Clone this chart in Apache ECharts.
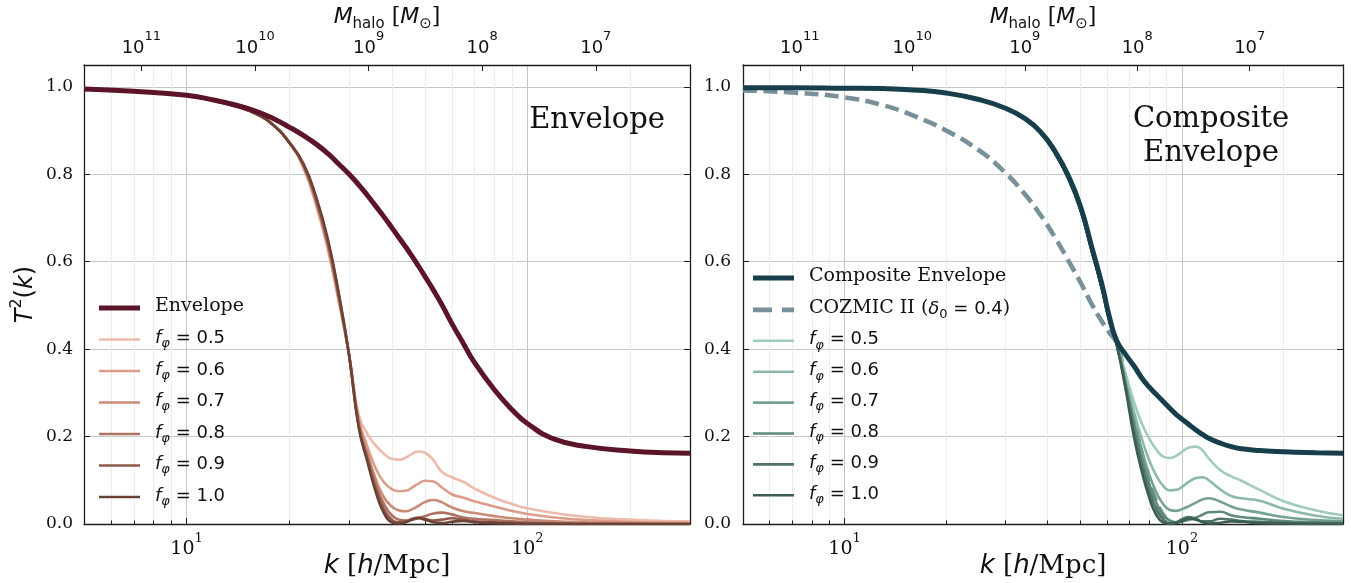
<!DOCTYPE html>
<html><head><meta charset="utf-8">
<script src="https://cdn.jsdelivr.net/npm/echarts@6/dist/echarts.min.js"></script>
<style>html,body{margin:0;padding:0;background:#fff}#c{width:1351px;height:583px}</style>
</head><body><div id="c"></div>
<script>
// ---------- data ----------
const kL = [5, 7, 10, 12, 14, 16, 18, 20, 22, 24, 26, 28, 30, 32, 34, 36, 38, 40, 42, 44, 46, 48, 50, 53, 56, 60, 65, 70, 80, 90, 100, 120, 150, 200, 250, 300];
const envelopeL = [0.995, 0.990, 0.981, 0.970, 0.958, 0.944, 0.927, 0.908, 0.889, 0.869, 0.847, 0.823, 0.800, 0.776, 0.751, 0.726, 0.702, 0.678, 0.655, 0.633, 0.611, 0.589, 0.567, 0.535, 0.503, 0.459, 0.412, 0.369, 0.307, 0.262, 0.230, 0.194, 0.177, 0.167, 0.163, 0.162];
const fL05 = [0.995, 0.990, 0.980, 0.969, 0.955, 0.938, 0.912, 0.873, 0.815, 0.728, 0.625, 0.505, 0.385, 0.250, 0.205, 0.178, 0.160, 0.149, 0.147, 0.152, 0.161, 0.166, 0.163, 0.146, 0.120, 0.107, 0.096, 0.081, 0.060, 0.046, 0.036, 0.025, 0.016, 0.010, 0.007, 0.006];
const fL06 = [0.995, 0.990, 0.980, 0.969, 0.955, 0.938, 0.912, 0.873, 0.817, 0.732, 0.630, 0.509, 0.385, 0.240, 0.175, 0.125, 0.095, 0.080, 0.075, 0.076, 0.084, 0.093, 0.099, 0.097, 0.084, 0.068, 0.060, 0.052, 0.040, 0.030, 0.023, 0.015, 0.009, 0.005, 0.003, 0.003];
const fL07 = [0.995, 0.990, 0.980, 0.969, 0.955, 0.938, 0.912, 0.873, 0.819, 0.736, 0.635, 0.513, 0.385, 0.232, 0.160, 0.100, 0.060, 0.040, 0.031, 0.029, 0.034, 0.042, 0.050, 0.055, 0.050, 0.038, 0.029, 0.025, 0.018, 0.013, 0.010, 0.006, 0.004, 0.002, 0.001, 0.001];
const fL08 = [0.995, 0.990, 0.980, 0.969, 0.955, 0.938, 0.912, 0.873, 0.821, 0.740, 0.640, 0.517, 0.385, 0.228, 0.152, 0.088, 0.045, 0.020, 0.010, 0.008, 0.010, 0.014, 0.018, 0.024, 0.026, 0.022, 0.015, 0.012, 0.009, 0.006, 0.004, 0.002, 0.001, 0.001, 0.000, 0.000];
const fL09 = [0.995, 0.990, 0.980, 0.969, 0.955, 0.938, 0.912, 0.873, 0.823, 0.744, 0.645, 0.521, 0.385, 0.224, 0.145, 0.078, 0.033, 0.010, 0.004, 0.006, 0.012, 0.015, 0.012, 0.008, 0.010, 0.013, 0.010, 0.006, 0.004, 0.003, 0.002, 0.001, 0.000, 0.000, 0.000, 0.000];
const fL10 = [0.995, 0.990, 0.980, 0.969, 0.955, 0.938, 0.912, 0.873, 0.825, 0.748, 0.650, 0.525, 0.385, 0.220, 0.140, 0.070, 0.024, 0.004, 0.001, 0.004, 0.010, 0.013, 0.010, 0.004, 0.002, 0.005, 0.007, 0.004, 0.002, 0.001, 0.000, 0.000, 0.000, 0.000, 0.000, 0.000];

const kR = [5, 7, 10, 13, 16, 20, 25, 30, 34, 38, 42, 46, 50, 54, 58, 61, 64, 68, 72, 76, 80, 84, 88, 92, 96, 100, 105, 110, 115, 120, 130, 140, 150, 170, 200, 250, 300];
const compositeR = [0.998, 0.998, 0.997, 0.996, 0.993, 0.986, 0.971, 0.951, 0.929, 0.898, 0.853, 0.797, 0.727, 0.634, 0.546, 0.472, 0.420, 0.388, 0.362, 0.334, 0.313, 0.296, 0.280, 0.265, 0.251, 0.240, 0.227, 0.215, 0.205, 0.196, 0.185, 0.177, 0.172, 0.168, 0.165, 0.163, 0.162];
const cozmicR = [0.992, 0.987, 0.976, 0.958, 0.934, 0.900, 0.855, 0.803, 0.757, 0.708, 0.656, 0.603, 0.553, 0.503, 0.462, 0.437, 0.414, 0.330, 0.240, 0.160, 0.095, 0.050, 0.020, 0.004, null, null, null, null, null, null, null, null, null, null, null, null, null];
const fR05 = [0.998, 0.998, 0.997, 0.996, 0.993, 0.986, 0.971, 0.951, 0.928, 0.896, 0.849, 0.791, 0.719, 0.625, 0.536, 0.463, 0.415, 0.345, 0.280, 0.230, 0.195, 0.170, 0.154, 0.151, 0.156, 0.165, 0.175, 0.177, 0.168, 0.150, 0.123, 0.109, 0.099, 0.078, 0.052, 0.031, 0.020];
const fR06 = [0.998, 0.998, 0.997, 0.996, 0.993, 0.986, 0.971, 0.951, 0.928, 0.896, 0.849, 0.791, 0.719, 0.625, 0.536, 0.463, 0.414, 0.335, 0.258, 0.195, 0.145, 0.110, 0.087, 0.077, 0.078, 0.085, 0.097, 0.105, 0.107, 0.100, 0.079, 0.064, 0.059, 0.053, 0.035, 0.019, 0.012];
const fR07 = [0.998, 0.998, 0.997, 0.996, 0.993, 0.986, 0.971, 0.951, 0.928, 0.896, 0.849, 0.791, 0.719, 0.625, 0.536, 0.463, 0.413, 0.325, 0.240, 0.170, 0.113, 0.072, 0.045, 0.032, 0.030, 0.034, 0.041, 0.049, 0.056, 0.059, 0.051, 0.040, 0.033, 0.026, 0.016, 0.009, 0.006];
const fR08 = [0.998, 0.998, 0.997, 0.996, 0.993, 0.986, 0.971, 0.951, 0.928, 0.896, 0.849, 0.791, 0.719, 0.625, 0.536, 0.463, 0.412, 0.320, 0.228, 0.152, 0.092, 0.048, 0.020, 0.008, 0.004, 0.006, 0.010, 0.015, 0.021, 0.027, 0.028, 0.020, 0.016, 0.012, 0.007, 0.004, 0.003];
const fR09 = [0.998, 0.998, 0.997, 0.996, 0.993, 0.986, 0.971, 0.951, 0.928, 0.896, 0.849, 0.791, 0.719, 0.625, 0.536, 0.463, 0.411, 0.315, 0.215, 0.135, 0.075, 0.033, 0.010, 0.002, 0.004, 0.011, 0.016, 0.012, 0.006, 0.006, 0.012, 0.010, 0.007, 0.005, 0.003, 0.002, 0.001];
const fR10 = [0.998, 0.998, 0.997, 0.996, 0.993, 0.986, 0.971, 0.951, 0.928, 0.896, 0.849, 0.791, 0.719, 0.625, 0.536, 0.463, 0.410, 0.310, 0.200, 0.120, 0.060, 0.020, 0.003, 0.000, 0.002, 0.007, 0.012, 0.010, 0.004, 0.001, 0.003, 0.006, 0.005, 0.002, 0.001, 0.000, 0.000];

const fLabels = ['0.5', '0.6', '0.7', '0.8', '0.9', '1.0'];
const kMajorTicks = [10, 100];
const kMinorTicks = [6, 7, 8, 9, 20, 30, 40, 50, 60, 70, 80, 90, 200];
const massTicks = [1e7, 1e8, 1e9, 1e10, 1e11];
const kRange = [5, 300];
const massConst = 4e13;   // M_halo = massConst / k^3 (top axis scale)

// ---------- styling ----------
const SERIF = 'DejaVu Serif', SANS = 'DejaVu Sans';
const leftColors = ['#ecbbac', '#dc9d89', '#c98a76', '#b07262', '#8f5a4c', '#6b4336'];
const rightColors = ['#9fccbb', '#8bbaa9', '#74a192', '#5e897b', '#4d7467', '#3e5d51'];
const envColor = '#5c1428', compColor = '#173f4b', cozColor = '#78909a';
const frame = '#1e1e1e', majorGrid = '#c8c8c8', minorGrid = '#ececec';
const W = {env: 5, f: 2.6, coz: 4.6};

const pairs = (ks, vs) => ks.map((k, i) => [k, vs[i]]);
const supRich = (fam, size) => ({
  b: {fontFamily: fam, fontSize: size, color: '#111', lineHeight: size + 4, verticalAlign: 'bottom'},
  s: {fontFamily: fam, fontSize: Math.round(size * 0.7), color: '#111', lineHeight: Math.round(size * 0.7), padding: [0, 0, Math.round(size * 0.75), 0], verticalAlign: 'bottom'}
});
const powLabel = v => '{b|10}{s|' + Math.round(Math.log10(v)) + '}';

const grids = [
  {left: 84, top: 65, width: 606, height: 459, containLabel: false, outerBoundsMode: 'none'},
  {left: 743, top: 65, width: 600, height: 459, containLabel: false, outerBoundsMode: 'none'}
];
const xAxes = [], yAxes = [];
grids.forEach((g, gi) => {
  xAxes.push({type: 'log', logBase: 10, gridIndex: gi, min: kRange[0], max: kRange[1], position: 'bottom',
    axisLine: {show: false}, axisLabel: {show: false},
    axisTick: {show: true, inside: true, length: 3.5, customValues: kMinorTicks, lineStyle: {color: frame, width: 1}},
    splitLine: {show: true, lineStyle: {color: minorGrid, width: 1}}});
  xAxes.push({type: 'log', logBase: 10, gridIndex: gi, min: kRange[0], max: kRange[1], position: 'bottom',
    axisLine: {show: true, onZero: false, lineStyle: {color: frame, width: 1.3}},
    axisTick: {show: true, inside: true, length: 6, customValues: kMajorTicks, lineStyle: {color: frame, width: 1}},
    axisLabel: {customValues: kMajorTicks, formatter: powLabel, margin: 12, rich: supRich(SERIF, 19)},
    splitLine: {show: true, lineStyle: {color: majorGrid, width: 1}},
    name: '{i|k}{n| [}{i|h}{n|/Mpc]}', nameLocation: 'middle', nameGap: 29, nameMoveOverlap: false,
    nameTextStyle: {rich: {
      i: {fontFamily: SANS, fontStyle: 'italic', fontSize: 26, color: '#111'},
      n: {fontFamily: SERIF, fontSize: 26, color: '#111'}}}});
  xAxes.push({type: 'log', logBase: 10, gridIndex: gi, position: 'top', inverse: true,
    min: massConst / Math.pow(kRange[1], 3), max: massConst / Math.pow(kRange[0], 3),
    axisLine: {show: true, onZero: false, lineStyle: {color: frame, width: 1.3}},
    axisTick: {show: true, inside: true, length: 6, customValues: massTicks, lineStyle: {color: frame, width: 1}},
    axisLabel: {customValues: massTicks, formatter: powLabel, margin: 8, rich: supRich(SANS, 18)},
    splitLine: {show: false},
    name: '{i|M}{sub|halo}{n| [}{i|M}{sub|⊙}{n|]}', nameLocation: 'middle', nameGap: 33, nameMoveOverlap: false,
    nameTextStyle: {rich: {
      i: {fontFamily: SANS, fontStyle: 'italic', fontSize: 22, color: '#111', lineHeight: 25, padding: [0, 0, 4, 0], verticalAlign: 'bottom'},
      sub: {fontFamily: SANS, fontSize: 15, color: '#111', lineHeight: 15, verticalAlign: 'bottom'},
      n: {fontFamily: SERIF, fontSize: 22, color: '#111', lineHeight: 25, padding: [0, 0, 4, 0], verticalAlign: 'bottom'}}}});
  yAxes.push({type: 'value', gridIndex: gi, min: 0, max: 1.05, interval: 0.2, position: 'left',
    axisLine: {show: true, onZero: false, lineStyle: {color: frame, width: 1.3}},
    axisTick: {show: true, inside: true, length: 6, lineStyle: {color: frame, width: 1}},
    axisLabel: {margin: gi === 0 ? 11 : 12, fontFamily: SERIF, fontSize: 17, color: '#111',
      formatter: v => (Math.abs(v * 5 - Math.round(v * 5)) < 1e-6 ? v.toFixed(1) : '')},
    splitLine: {show: true, lineStyle: {color: majorGrid, width: 1}},
    name: gi === 0 ? '{i|T}{s|2}{n|(}{i|k}{n|)}' : '', nameLocation: 'middle', nameGap: 46,
    nameTextStyle: {rich: {
      i: {fontFamily: SANS, fontStyle: 'italic', fontSize: 24, color: '#111', lineHeight: 28, verticalAlign: 'bottom'},
      s: {fontFamily: SANS, fontSize: 16, color: '#111', lineHeight: 16, padding: [0, 0, 13, 0], verticalAlign: 'bottom'},
      n: {fontFamily: SANS, fontSize: 24, color: '#111', lineHeight: 28, verticalAlign: 'bottom'}}}});
  yAxes.push({type: 'value', gridIndex: gi, min: 0, max: 1.05, interval: 0.2, position: 'right',
    axisLine: {show: true, onZero: false, lineStyle: {color: frame, width: 1.3}},
    axisTick: {show: true, inside: true, length: 6, lineStyle: {color: frame, width: 1}},
    axisLabel: {show: false}, splitLine: {show: false}});
});

const series = [];
const lineSeries = (name, gi, ks, vs, color, width, z, dashed) => ({
  name, type: 'line', xAxisIndex: gi * 3 + 1, yAxisIndex: gi * 2, data: pairs(ks, vs),
  showSymbol: false, symbol: 'none', smooth: 0.5, z, clip: true, silent: true, animation: false,
  lineStyle: {color, width, type: dashed ? [14, 6.5] : 'solid', cap: 'butt'}, itemStyle: {color}
});
[fL05, fL06, fL07, fL08, fL09, fL10].forEach((arr, i) => series.push(lineSeries('L' + fLabels[i], 0, kL, arr, leftColors[i], W.f, 3)));
series.push(lineSeries('Envelope', 0, kL, envelopeL, envColor, W.env, 5));
series.push(lineSeries('COZMIC', 1, kR, cozmicR, cozColor, W.coz, 2, true));
[fR05, fR06, fR07, fR08, fR09, fR10].forEach((arr, i) => series.push(lineSeries('R' + fLabels[i], 1, kR, arr, rightColors[i], W.f, 3)));
series.push(lineSeries('Composite Envelope', 1, kR, compositeR, compColor, W.env, 5));

// legend handles drawn as filled bars / dashes
const iconThick = 'path://M0 0H41V5H0Z', iconThin = 'path://M0 0H41V2.6H0Z', iconDash = 'path://M0 0H19V4.6H0Z M29 0H41V4.6H29Z';
const legendLabel = {Envelope: '{e|Envelope}', 'Composite Envelope': '{e|Composite Envelope}',
  COZMIC: '{e|COZMIC II (}{d|δ}{z|0}{q| = 0.4}{e|)}'};
fLabels.forEach(f => { legendLabel['L' + f] = legendLabel['R' + f] = '{f|f}{p|φ}{q| = ' + f + '}'; });
const legendRich = {
  e: {fontFamily: SERIF, fontSize: 19, color: '#111', lineHeight: 22, padding: [0, 0, 3, 0], verticalAlign: 'bottom'},
  f: {fontFamily: SANS, fontStyle: 'italic', fontSize: 18, color: '#111', lineHeight: 22, padding: [0, 0, 3, 0], verticalAlign: 'bottom'},
  d: {fontFamily: SANS, fontStyle: 'italic', fontSize: 18, color: '#111', lineHeight: 22, padding: [0, 0, 3, 0], verticalAlign: 'bottom'},
  q: {fontFamily: SANS, fontSize: 18, color: '#111', lineHeight: 22, padding: [0, 0, 3, 0], verticalAlign: 'bottom'},
  p: {fontFamily: SANS, fontStyle: 'italic', fontSize: 13, color: '#111', lineHeight: 13, verticalAlign: 'bottom'},
  z: {fontFamily: SANS, fontSize: 13, color: '#111', lineHeight: 13, verticalAlign: 'bottom'}
};
const legendItem = n => ({name: n, icon: (n === 'Envelope' || n === 'Composite Envelope') ? iconThick : (n === 'COZMIC' ? iconDash : iconThin)});
const mkLegend = (names, left, top, gap) => ({
  data: names.map(legendItem), left, top, orient: 'vertical', padding: 0, itemWidth: 41, itemHeight: 14, itemGap: gap,
  selectedMode: false, formatter: n => legendLabel[n], itemStyle: {borderWidth: 0},
  textStyle: {rich: legendRich, padding: [0, 0, 0, 10]}
});

const chart = echarts.init(document.getElementById('c'), null, {renderer: 'canvas'});
chart.setOption({
  animation: false,
  backgroundColor: '#fff',
  grid: grids,
  xAxis: xAxes,
  yAxis: yAxes,
  legend: [
    mkLegend(['Envelope'].concat(fLabels.map(f => 'L' + f)), 99, 297, 10.5),
    mkLegend(['Composite Envelope', 'COZMIC'].concat(fLabels.map(f => 'R' + f)), 753, 267, 9.9)
  ],
  series,
  graphic: [
    {type: 'text', x: 665, y: 120, z: 10, style: {text: 'Envelope', font: '29px "DejaVu Serif"', fill: '#111', textAlign: 'right', textVerticalAlign: 'middle'}},
    {type: 'text', x: 1211, y: 119, z: 10, style: {text: 'Composite', font: '29px "DejaVu Serif"', fill: '#111', textAlign: 'center', textVerticalAlign: 'middle'}},
    {type: 'text', x: 1211, y: 153, z: 10, style: {text: 'Envelope', font: '29px "DejaVu Serif"', fill: '#111', textAlign: 'center', textVerticalAlign: 'middle'}}
  ]
});
</script></body></html>
